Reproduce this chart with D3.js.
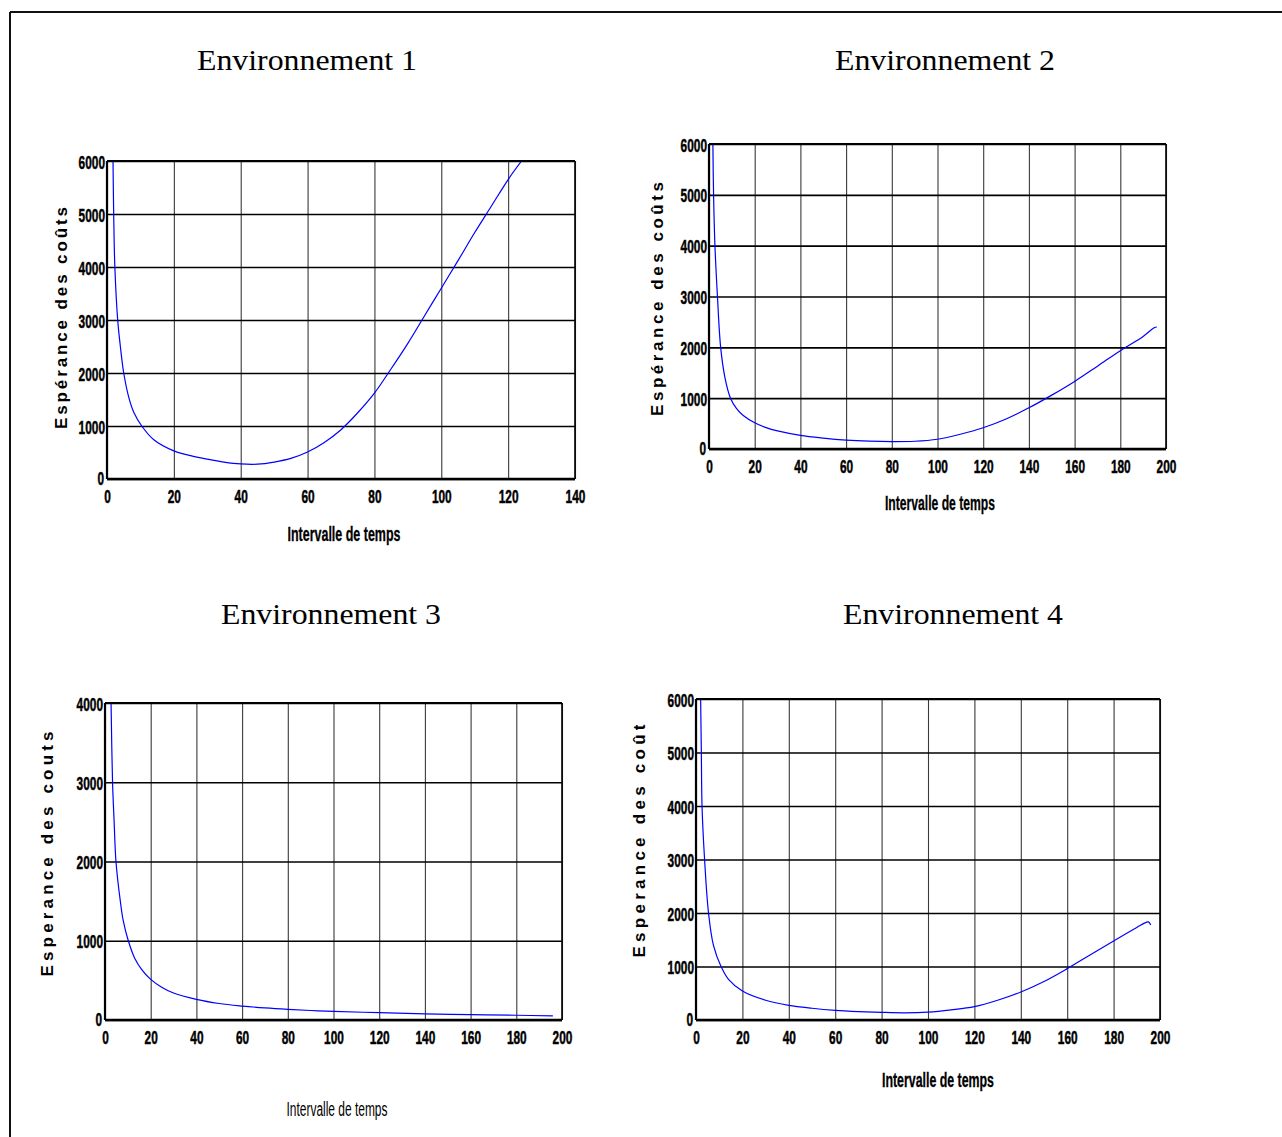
<!DOCTYPE html>
<html>
<head>
<meta charset="utf-8">
<script src="https://cdn.jsdelivr.net/npm/d3@7"></script>
<style>
  body { margin: 0; background: #fff; }
  svg { display: block; }
</style>
</head>
<body>
<script>
// ---- Text ----
const titles = ["Environnement 1", "Environnement 2", "Environnement 3", "Environnement 4"];
const yLabels = ["Espérance des coûts", "Espérance des coûts", "Esperance des couts", "Esperance des coût"];
const xLabel = "Intervalle de temps";

// ---- Tick values ----
const xTicks140 = [0, 20, 40, 60, 80, 100, 120, 140];
const xTicks200 = [0, 20, 40, 60, 80, 100, 120, 140, 160, 180, 200];
const yTicks6000 = [0, 1000, 2000, 3000, 4000, 5000, 6000];
const yTicks4000 = [0, 1000, 2000, 3000, 4000];

// ---- Environnement 1 : expected cost vs. time interval ----
const env1T    = [1.8, 2.0, 2.35, 3.2, 4, 5, 6.6, 8, 10.4, 14, 20, 25, 30, 35, 40, 45, 50, 55, 60, 65, 70, 75, 80, 85, 90, 95, 100, 105, 110, 115, 120, 124];
const env1Cost = [6000, 5000, 4000, 3000, 2500, 2000, 1520, 1260, 1000, 740, 530, 440, 375, 320, 285, 280, 320, 390, 510, 690, 930, 1250, 1620, 2080, 2560, 3080, 3600, 4120, 4650, 5150, 5650, 6000];

// ---- Environnement 2 ----
const env2T    = [1.7, 2.0, 2.6, 3.7, 5.1, 7, 9.4, 12, 15, 20, 25, 30, 40, 50, 60, 70, 80, 90, 100, 110, 120, 130, 140, 150, 160, 170, 180, 190, 195, 196];
const env2Cost = [6000, 5000, 4000, 3000, 2000, 1400, 1000, 800, 660, 516, 420, 355, 268, 215, 176, 154, 145, 152, 192, 290, 418, 590, 810, 1060, 1330, 1630, 1935, 2215, 2390, 2400];

// ---- Environnement 3 ----
const env3T    = [2.65, 3.3, 4, 4.8, 6.7, 8, 10.2, 13, 16, 20, 25, 30, 40, 50, 60, 70, 80, 90, 100, 120, 140, 160, 180, 196];
const env3Cost = [4000, 3000, 2500, 2000, 1500, 1250, 1000, 780, 640, 513, 410, 340, 260, 208, 176, 152, 134, 120, 109, 92, 78, 68, 60, 52];

// ---- Environnement 4 ----
const env4T    = [2.0, 2.3, 2.6, 3.7, 5.4, 7.5, 10.8, 14, 20, 30, 40, 50, 60, 70, 80, 90, 100, 110, 120, 130, 140, 150, 160, 170, 180, 190, 194, 195, 196];
const env4Cost = [6000, 5000, 4000, 3000, 2000, 1400, 1000, 760, 543, 370, 274, 220, 181, 158, 143, 135, 148, 190, 250, 370, 524, 720, 960, 1220, 1478, 1730, 1825, 1834, 1778];

// ---- Panel layout ----
const panels = [
  { t: env1T, c: env1Cost, xTicks: xTicks140, yTicks: yTicks6000, xMax: 140, yMax: 6000,
    left: 107, right: 575, top: 161, bottom: 479,
    titleX: 307, titleY: 70, ylX: 67, ylY: 318, ylLen: 222, xlX: 344, xlY: 541, xlLen: 113, xlBold: true },
  { t: env2T, c: env2Cost, xTicks: xTicks200, yTicks: yTicks6000, xMax: 200, yMax: 6000,
    left: 709, right: 1166, top: 144, bottom: 449,
    titleX: 945, titleY: 70, ylX: 663, ylY: 299, ylLen: 234, xlX: 940, xlY: 510, xlLen: 110, xlBold: true },
  { t: env3T, c: env3Cost, xTicks: xTicks200, yTicks: yTicks4000, xMax: 200, yMax: 4000,
    left: 105, right: 562, top: 703, bottom: 1020,
    titleX: 331, titleY: 624, ylX: 53, ylY: 854, ylLen: 245, xlX: 337, xlY: 1116, xlLen: 101, xlBold: false },
  { t: env4T, c: env4Cost, xTicks: xTicks200, yTicks: yTicks6000, xMax: 200, yMax: 6000,
    left: 696, right: 1160, top: 699, bottom: 1020,
    titleX: 953, titleY: 624, ylX: 645, ylY: 841, ylLen: 233, xlX: 938, xlY: 1087, xlLen: 112, xlBold: true }
];

const W = 1282, H = 1137;
const svg = d3.select("body").append("svg").attr("width", W).attr("height", H);

// page frame (top and left rules)
svg.append("line").attr("x1", 10).attr("y1", 12).attr("x2", W).attr("y2", 12)
  .attr("stroke", "#111").attr("stroke-width", 2);
svg.append("line").attr("x1", 10).attr("y1", 12).attr("x2", 10).attr("y2", H)
  .attr("stroke", "#111").attr("stroke-width", 2);

const tickFont = "'Liberation Sans Narrow', 'Liberation Sans', Arial, sans-serif";
const DIGIT_W = 6.6;

panels.forEach((p, i) => {
  const x = d3.scaleLinear().domain([0, p.xMax]).range([p.left, p.right]);
  const y = d3.scaleLinear().domain([0, p.yMax]).range([p.bottom, p.top]);
  const g = svg.append("g");

  // title
  g.append("text")
    .attr("x", p.titleX).attr("y", p.titleY)
    .attr("text-anchor", "middle")
    .attr("font-family", "'Liberation Serif', 'Times New Roman', serif")
    .attr("font-size", 30)
    .attr("textLength", 220).attr("lengthAdjust", "spacingAndGlyphs")
    .text(titles[i]);

  // vertical grid
  g.append("g")
    .attr("transform", `translate(0,${p.bottom})`)
    .call(d3.axisBottom(x).tickValues(p.xTicks).tickSize(-(p.bottom - p.top)).tickFormat(""))
    .call(s => s.select(".domain").remove())
    .selectAll("line").attr("stroke", "#3a3a3a").attr("stroke-width", 1.1);

  // horizontal grid
  g.append("g")
    .attr("transform", `translate(${p.left},0)`)
    .call(d3.axisLeft(y).tickValues(p.yTicks).tickSize(-(p.right - p.left)).tickFormat(""))
    .call(s => s.select(".domain").remove())
    .selectAll("line").attr("stroke", "#000").attr("stroke-width", 1.6);

  // curve
  const clipId = "clip" + i;
  g.append("clipPath").attr("id", clipId)
    .append("rect").attr("x", p.left).attr("y", p.top)
    .attr("width", p.right - p.left).attr("height", p.bottom - p.top);

  const pts = p.t.map((t, k) => [t, p.c[k]]);
  g.append("path")
    .datum(pts)
    .attr("clip-path", `url(#${clipId})`)
    .attr("fill", "none")
    .attr("stroke", "#0000ff")
    .attr("stroke-width", 1.2)
    .attr("d", d3.line().x(d => x(d[0])).y(d => y(d[1])).curve(d3.curveCatmullRom.alpha(0.5)));

  // plot box
  g.append("line").attr("x1", p.left).attr("x2", p.right).attr("y1", p.top).attr("y2", p.top)
    .attr("stroke", "#000").attr("stroke-width", 2);
  g.append("line").attr("x1", p.right).attr("x2", p.right).attr("y1", p.top).attr("y2", p.bottom)
    .attr("stroke", "#000").attr("stroke-width", 1.6);
  g.append("line").attr("x1", p.left).attr("x2", p.right).attr("y1", p.bottom).attr("y2", p.bottom)
    .attr("stroke", "#000").attr("stroke-width", 2.4);
  g.append("line").attr("x1", p.left).attr("x2", p.left).attr("y1", p.top).attr("y2", p.bottom)
    .attr("stroke", "#000").attr("stroke-width", 2.2);

  // x tick labels
  g.append("g")
    .attr("transform", `translate(0,${p.bottom})`)
    .call(d3.axisBottom(x).tickValues(p.xTicks).tickSize(0).tickFormat(d3.format("d")))
    .call(s => s.select(".domain").remove())
    .selectAll("text")
    .attr("y", 24).attr("dy", null)
    .attr("fill", "#000").attr("stroke", "#000").attr("stroke-width", 0.5)
    .attr("font-family", tickFont).attr("font-weight", "bold").attr("font-size", 19)
    .each(function (d) {
      d3.select(this).attr("textLength", String(d).length * DIGIT_W).attr("lengthAdjust", "spacingAndGlyphs");
    });

  // y tick labels
  g.append("g")
    .attr("transform", `translate(${p.left},0)`)
    .call(d3.axisLeft(y).tickValues(p.yTicks).tickSize(0).tickFormat(d3.format("d")))
    .call(s => s.select(".domain").remove())
    .selectAll("text")
    .attr("x", d => d === 0 ? -3 : -2).attr("y", d => d === 0 ? 5 : 7).attr("dy", null)
    .attr("fill", "#000").attr("stroke", "#000").attr("stroke-width", 0.5)
    .attr("font-family", tickFont).attr("font-weight", "bold").attr("font-size", 19)
    .each(function (d) {
      d3.select(this).attr("textLength", String(d).length * DIGIT_W).attr("lengthAdjust", "spacingAndGlyphs");
    });

  // x axis title
  g.append("text")
    .attr("x", p.xlX).attr("y", p.xlY)
    .attr("text-anchor", "middle")
    .attr("font-family", tickFont)
    .attr("font-weight", p.xlBold ? "bold" : "normal")
    .attr("stroke", p.xlBold ? "#000" : "none").attr("stroke-width", 0.3)
    .attr("font-size", 20)
    .attr("textLength", p.xlLen).attr("lengthAdjust", "spacingAndGlyphs")
    .text(xLabel);

  // y axis title
  g.append("text")
    .attr("transform", `translate(${p.ylX},${p.ylY}) rotate(-90)`)
    .attr("text-anchor", "middle")
    .attr("font-family", "'Liberation Sans', Arial, sans-serif")
    .attr("font-weight", "bold")
    .attr("font-size", 17)
    .attr("textLength", p.ylLen).attr("lengthAdjust", "spacing")
    .text(yLabels[i]);
});
</script>
</body>
</html>
